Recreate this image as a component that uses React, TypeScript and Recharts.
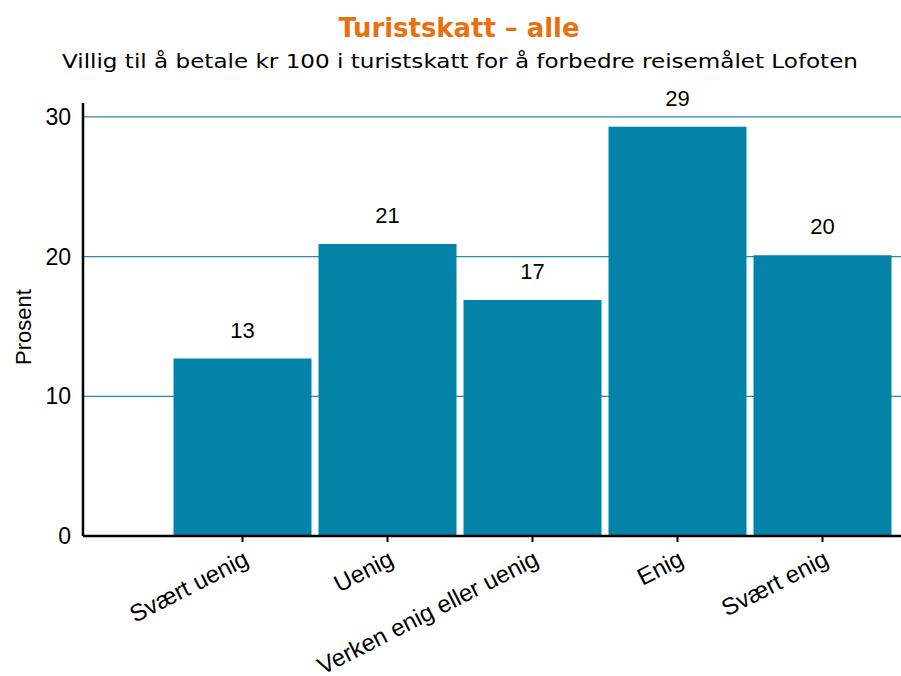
import { BarChart, Bar, XAxis, YAxis, CartesianGrid, LabelList } from 'recharts'

const categories = ['Svært uenig', 'Uenig', 'Verken enig eller uenig', 'Enig', 'Svært enig']
const percent = [12.7, 20.9, 16.9, 29.3, 20.1]
const yTicks = [0, 10, 20, 30]
const gridValues = [10, 20, 30]

const data = categories.map((name, i) => ({ name, percent: percent[i] }))

const font = '"Liberation Sans", Arial, sans-serif'

export default function App() {
  return (
    <div style={{ position: 'relative', width: 901, height: 676 }}>
      <style>{`body{margin:0}`}</style>
      <svg width={901} height={676} style={{ position: 'absolute', left: 0, top: 0 }}>
        <text
          x={459}
          y={37}
          textAnchor="middle"
          fill="#e8700f"
          fontSize={27}
          fontWeight="bold"
          fontFamily='"DejaVu Sans Condensed", "DejaVu Sans", sans-serif'
          textLength={241}
          lengthAdjust="spacingAndGlyphs"
        >
          Turistskatt – alle
        </text>
        <text
          x={460}
          y={68}
          textAnchor="middle"
          fill="#000"
          fontSize={20}
          fontFamily='"DejaVu Sans Condensed", "DejaVu Sans", sans-serif'
          textLength={796}
          lengthAdjust="spacingAndGlyphs"
        >
          Villig til å betale kr 100 i turistskatt for å forbedre reisemålet Lofoten
        </text>
        <text
          transform="translate(31, 327) rotate(-90)"
          textAnchor="middle"
          fontSize={22}
          fontFamily={font}
          fill="#000"
        >
          Prosent
        </text>
      </svg>
      <div style={{ position: 'absolute', left: 0, top: 0 }}>
        <BarChart
          width={901}
          height={676}
          data={data}
          margin={{ top: 103, right: 0, bottom: 0, left: 0 }}
          barCategoryGap={3.5}
        >
          <CartesianGrid
            vertical={false}
            horizontalValues={gridValues}
            stroke="#2a8aaa"
            strokeWidth={1.3}
          />
          <XAxis
            dataKey="name"
            interval={0}
            height={140}
            padding={{ left: 87, right: 6 }}
            axisLine={{ stroke: '#000', strokeWidth: 2.5 }}
            tickLine={{ stroke: '#000', strokeWidth: 2 }}
            tickSize={6}
            tickMargin={7}
            angle={-27}
            textAnchor="end"
            tick={{ fontSize: 24, fill: '#000', fontFamily: font }}
          />
          <YAxis
            width={83}
            domain={[0, 31]}
            ticks={yTicks}
            axisLine={{ stroke: '#000', strokeWidth: 2.5 }}
            tickLine={false}
            tickSize={0}
            tickMargin={12}
            tick={{ fontSize: 23, fill: '#000', fontFamily: font }}
          />
          <Bar dataKey="percent" fill="#0383a7" isAnimationActive={false}>
            <LabelList
              dataKey="percent"
              position="top"
              offset={21}
              formatter={(v: any) => Math.round(Number(v))}
              style={{ fontSize: 22, fill: '#000', fontFamily: font }}
            />
          </Bar>
        </BarChart>
      </div>
    </div>
  )
}
